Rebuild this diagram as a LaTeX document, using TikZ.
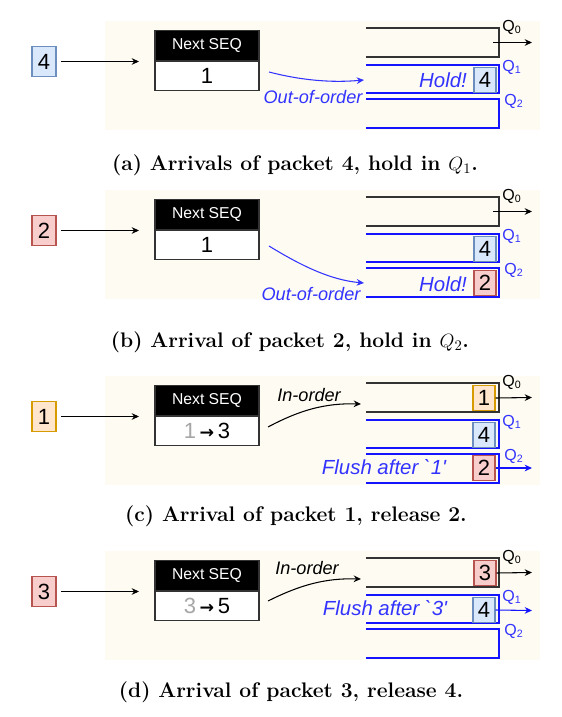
\documentclass[tikz,border=0pt]{standalone}
\usepackage{fontspec}
\newfontfamily\diafont[Ligatures=TeXOff]{Liberation Sans}
\newfontfamily\arrfont{DejaVu Sans}
\usetikzlibrary{arrows.meta}
\usetikzlibrary{positioning}

\definecolor{bgcream}{RGB}{254,252,242}
\definecolor{qblue}{RGB}{20,20,255}
\definecolor{txtblue}{RGB}{51,51,255}
\definecolor{pktbluefill}{HTML}{DAE8FC}
\definecolor{pktblueline}{HTML}{6C8EBF}
\definecolor{pktredfill}{HTML}{F8CECC}
\definecolor{pktredline}{HTML}{B85450}
\definecolor{pktorgfill}{HTML}{FFE6CC}
\definecolor{pktorgline}{HTML}{D79B00}

\tikzset{
  arr/.style={-{Stealth[length=5.5pt,width=5pt]}, line width=0.8pt},
  pkt/.style={draw, line width=0.8pt, inner sep=0pt, minimum width=18pt, minimum height=22.5pt,
    font=\diafont\fontsize{16.5}{18}\selectfont},
  qpkt/.style={pkt, minimum width=16.5pt, minimum height=18.5pt},
  pblue/.style={fill=pktbluefill, draw=pktblueline},
  pred/.style={fill=pktredfill, draw=pktredline},
  porg/.style={fill=pktorgfill, draw=pktorgline},
  hdr/.style={fill=black, draw=black!80, line width=0.8pt, text=white, inner sep=0pt,
    minimum width=78pt, minimum height=23pt, font=\diafont\fontsize{11.8}{13}\selectfont},
  seqbody/.style={fill=white, draw=black!80, line width=0.8pt, inner sep=0pt,
    minimum width=78pt, minimum height=21.75pt, font=\diafont\fontsize{16.5}{18}\selectfont},
  qblack/.style={draw=black!80, line width=1pt},
  qline/.style={draw=qblue, line width=1pt},
  qlab/.style={inner sep=0pt, font=\diafont\fontsize{12}{13}\selectfont},
  flowlab/.style={inner sep=0pt, font=\diafont\itshape\fontsize{13.6}{15}\selectfont},
  holdlab/.style={inner sep=0pt, text=txtblue, font=\diafont\itshape\fontsize{15.3}{17}\selectfont},
  subcap/.style={inner sep=0pt, font=\bfseries\fontsize{15.8}{17}\selectfont}
}
\newcommand{\seqarrow}{{\arrfont\bfseries\fontsize{13}{14}\selectfont →}}

\begin{document}
\begin{tikzpicture}[x=0.75pt,y=-0.75pt]
\useasboundingbox (0,0) rectangle (561,717);
% frame shared by the four panels
\foreach \p/\dy in {a/0,b/169,c/355,d/530}{
  \begin{scope}[shift={(0,\dy)}]
    \fill[bgcream] (105,21) rectangle (540,130);
    \node[hdr] (hdr\p) at (207,45.5) {Next SEQ};
    \draw[qblack] (366,28) -- (499,28) -- (499,57) -- (366,57);
    \draw[qline] (366,65) -- (499,65) -- (499,93) -- (366,93);
    \draw[qline] (366,99) -- (499,99) -- (499,128) -- (366,128);
    \node[qlab] (qzero\p) at (512,27) {Q\textsubscript{0}};
    \node[qlab,text=txtblue] (qone\p) at (512,67) {Q\textsubscript{1}};
    \node[qlab,text=txtblue] (qtwo\p) at (514,101) {Q\textsubscript{2}};
    \coordinate (in\p) at (139,61.5);
    \coordinate (out\p) at (532,42.5);
  \end{scope}
}
% (a) packet 4 held in Q1
\node[pkt,pblue] (pa) at (44,61.5) {4};
\draw[arr] (pa.east) -- (ina) [shorten <=3.5pt];
\node[seqbody, below=0pt of hdra] (bodya) {1};
\coordinate (sa) at (269,72);
\coordinate (ea) at (364,80);
\draw[arr,txtblue] (sa) .. controls (300,80) and (330,83) .. (ea);
\node[flowlab,text=txtblue] (ooa) at (313,97) {Out-of-order};
\node[holdlab] (holda) at (443,80) {Hold!};
\node[qpkt,pblue] (qpa) at (485,80) {4};
\coordinate (q0a) at (493,42.5);
\draw[arr] (q0a) -- (outa);
\node[subcap] (capa) at (295,165) {(a) Arrivals of packet 4, hold in $Q_1$.};

% (b) packet 2 held in Q2
\begin{scope}[shift={(0,169)}]
\node[pkt,pred] (pb) at (44,61.5) {2};
\draw[arr] (pb.east) -- (inb) [shorten <=3.5pt];
\node[seqbody, below=0pt of hdrb] (bodyb) {1};
\coordinate (sb) at (269,77);
\coordinate (eb) at (364,114);
\draw[arr,txtblue] (sb) .. controls (300,96) and (330,111) .. (eb);
\node[flowlab,text=txtblue] (oob) at (311,125) {Out-of-order};
\node[qpkt,pblue] (qpb) at (485,80) {4};
\node[holdlab] (holdb) at (443,115) {Hold!};
\node[qpkt,pred] (qqb) at (485,114) {2};
\coordinate (q0b) at (493,42.5);
\draw[arr] (q0b) -- (outb);
\end{scope}
\node[subcap] (capb) at (290,342) {(b) Arrival of packet 2, hold in $Q_2$.};

% (c) packet 1 in order, release 2
\begin{scope}[shift={(0,355)}]
\node[pkt,porg] (pc) at (44,61.5) {1};
\draw[arr] (pc.east) -- (inc) [shorten <=3.5pt];
\node[seqbody, below=0pt of hdrc] (bodyc) {{\color{black!35}1}\,\seqarrow\,3};
\coordinate (sc) at (268,72);
\coordinate (ec) at (361,49);
\draw[arr] (sc) .. controls (300,55) and (325,48) .. (ec);
\node[flowlab] (ioc) at (309,40) {In-order};
\node[qpkt,porg] (qzc) at (484,43) {1};
\draw[arr] (qzc.east) -- (outc);
\node[qpkt,pblue] (qpc) at (484,80) {4};
\node[qpkt,pred] (qqc) at (484,113) {2};
\coordinate (outtwoc) at (532,113);
\draw[arr,qblue] (qqc.east) -- (outtwoc);
\node[holdlab] (flc) at (384,112) {Flush after `1'};
\end{scope}
\node[subcap] (capc) at (296,516) {(c) Arrival of packet 1, release 2.};

% (d) packet 3 in order, release 4
\begin{scope}[shift={(0,530)}]
\node[pkt,pred] (pd) at (44,61.5) {3};
\draw[arr] (pd.east) -- (ind) [shorten <=3.5pt];
\node[seqbody, below=0pt of hdrd] (bodyd) {{\color{black!35}3}\,\seqarrow\,5};
\coordinate (sd) at (268,71);
\coordinate (ed) at (361,49);
\draw[arr] (sd) .. controls (300,55) and (325,48) .. (ed);
\node[flowlab] (iod) at (307,38) {In-order};
\node[qpkt,pred] (qzd) at (485,43) {3};
\draw[arr] (qzd.east) -- (outd);
\node[qpkt,pblue] (qpd) at (484,80) {4};
\coordinate (outoned) at (532,80.5);
\draw[arr,qblue] (qpd.east) -- (outoned);
\node[holdlab] (fld) at (385,78) {Flush after `3'};
\end{scope}
\node[subcap] (capd) at (291,692) {(d) Arrival of packet 3, release 4.};
\end{tikzpicture}
\end{document}
